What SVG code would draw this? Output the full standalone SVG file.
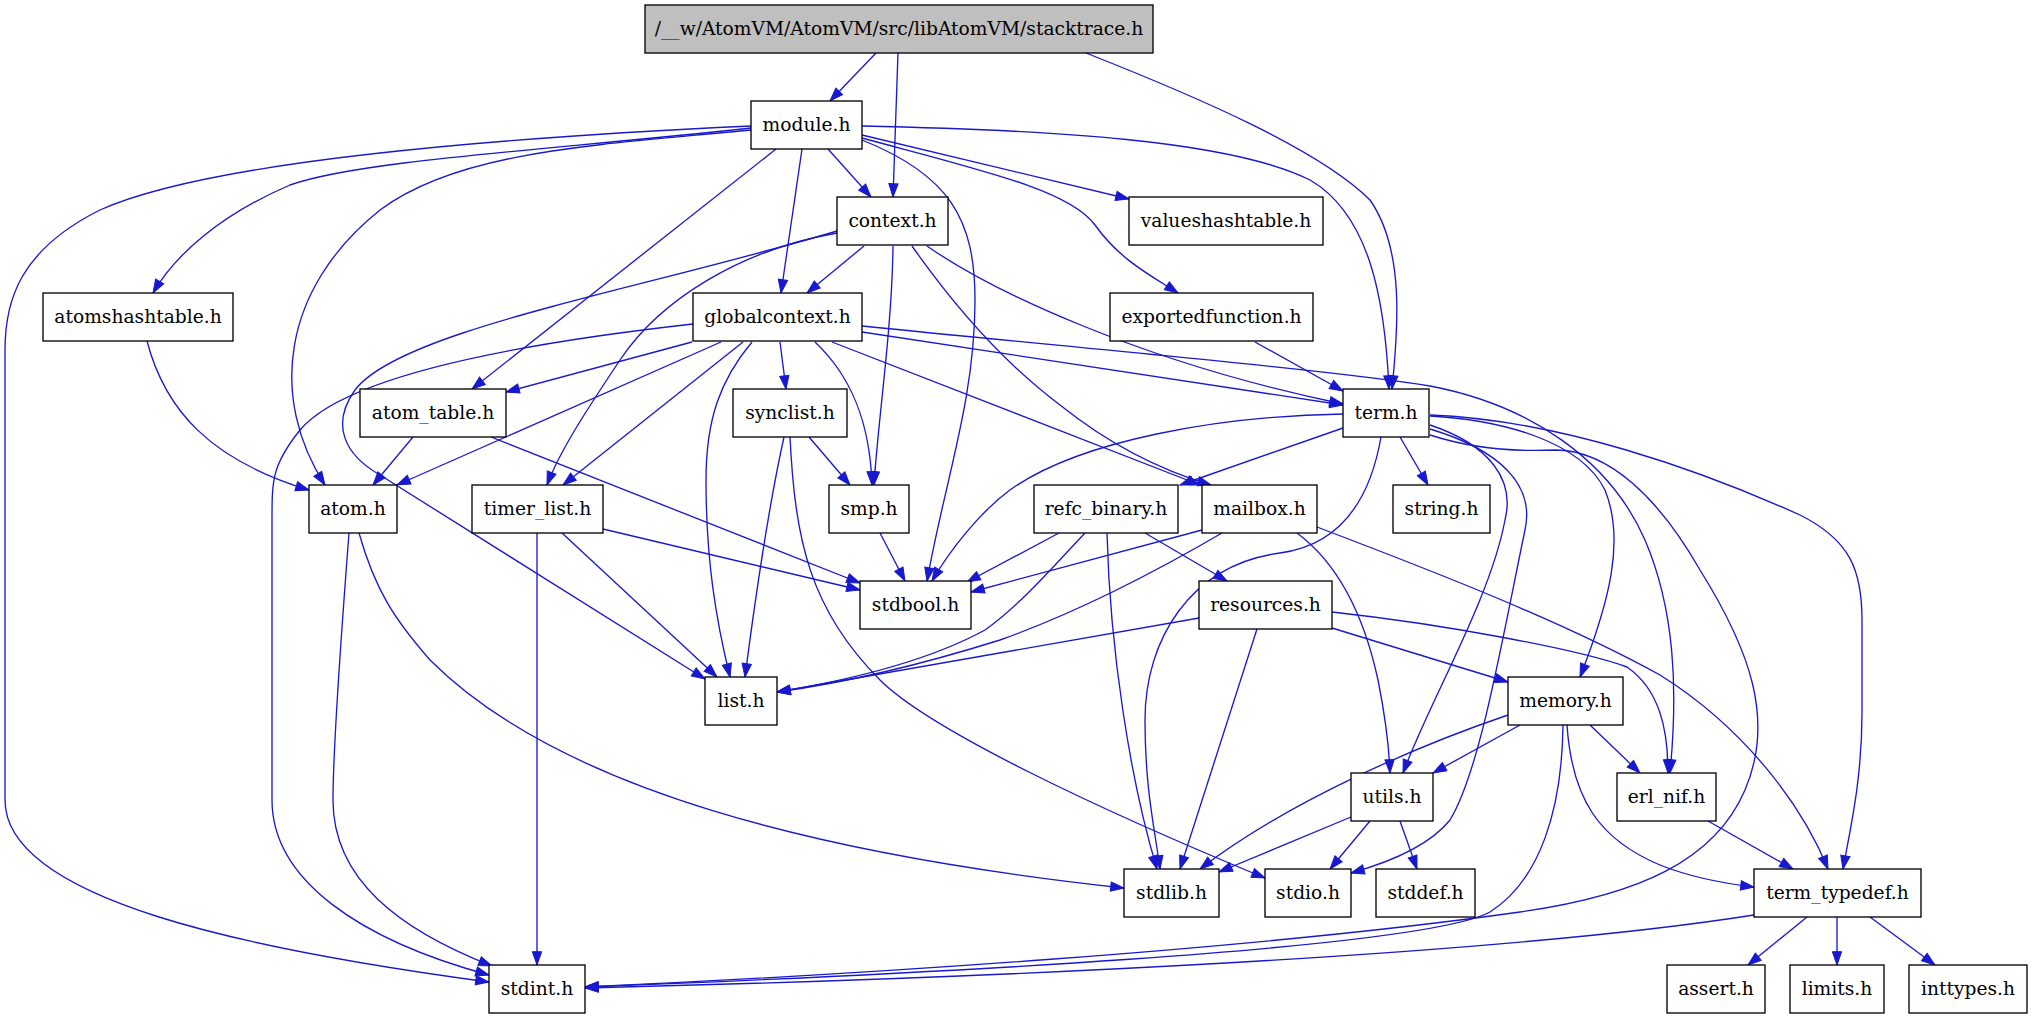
<svg xmlns="http://www.w3.org/2000/svg" width="2033" height="1019" viewBox="0 0 2033 1019">
<style>
.node rect{fill:#ffffff;stroke:#000000;stroke-width:1.33}
.node.root rect{fill:#bfbfbf}
.node text{font-family:"DejaVu Serif","Liberation Serif",serif;font-size:18.67px;text-anchor:middle;fill:#000000}
.edge{fill:none;stroke:#1818cc;stroke-width:1.33;marker-end:url(#arr)}
</style>
<defs>
<marker id="arr" markerUnits="userSpaceOnUse" markerWidth="14" markerHeight="10" refX="13.3" refY="4.67" orient="auto" overflow="visible">
<path d="M0,0 L13.3,4.67 L0,9.33 Z" fill="#1818cc" stroke="#1818cc" stroke-width="1"/>
</marker>
</defs>
<rect width="2033" height="1019" fill="#ffffff"/>
<g id="edges">
<path class="edge" d="M876,53 L830,101"/>
<path class="edge" d="M898,53 L893,197"/>
<path class="edge" d="M1086,53 C1200,98 1320,150 1370,200 C1405,250 1398,330 1392,389"/>
<path class="edge" d="M751,126 C450,140 200,165 100,210 C20,250 5,300 5,350 L5,800 C5,900 250,950 489,982"/>
<path class="edge" d="M751,128 C550,150 360,160 290,185 C220,215 175,255 153,293"/>
<path class="edge" d="M751,130 C600,145 460,150 380,210 C280,290 270,400 325,485"/>
<path class="edge" d="M776,149 L472,389"/>
<path class="edge" d="M802,149 L781,293"/>
<path class="edge" d="M828,149 L871,197"/>
<path class="edge" d="M862,140 C950,175 975,220 975,300 C975,400 945,480 927,581"/>
<path class="edge" d="M862,135 L1129,199"/>
<path class="edge" d="M862,138 C980,170 1070,190 1095,225 C1120,260 1150,275 1178,293"/>
<path class="edge" d="M862,126 C1050,130 1230,140 1310,180 C1370,215 1385,300 1389,389"/>
<path class="edge" d="M837,231 C640,290 400,330 355,390 C330,425 345,455 380,475 L705,679"/>
<path class="edge" d="M837,233 C740,250 660,300 620,360 C590,405 560,450 547,485"/>
<path class="edge" d="M864,246 L807,293"/>
<path class="edge" d="M893,246 C892,330 878,420 874,485"/>
<path class="edge" d="M912,246 C950,300 1000,360 1060,405 C1110,445 1160,470 1211,485"/>
<path class="edge" d="M927,246 C990,290 1140,362 1343,404"/>
<path class="edge" d="M147,341 C165,410 210,460 309,490"/>
<path class="edge" d="M693,324 C550,340 350,370 300,430 C272,465 272,480 272,520 L272,800 C272,880 360,940 489,975"/>
<path class="edge" d="M692,342 L506,392"/>
<path class="edge" d="M721,342 L397,485"/>
<path class="edge" d="M743,342 L563,485"/>
<path class="edge" d="M752,342 C720,380 706,420 706,480 C706,560 716,620 730,677"/>
<path class="edge" d="M780,342 L786,389"/>
<path class="edge" d="M815,342 C850,375 870,420 872,485"/>
<path class="edge" d="M832,342 L1200,485"/>
<path class="edge" d="M862,332 L1343,405"/>
<path class="edge" d="M862,326 C1100,350 1330,370 1430,386 C1530,405 1610,460 1645,540 C1675,610 1678,690 1670,773"/>
<path class="edge" d="M1255,342 L1343,391"/>
<path class="edge" d="M413,437 L373,485"/>
<path class="edge" d="M491,437 L860,583"/>
<path class="edge" d="M809,437 L850,485"/>
<path class="edge" d="M784,437 C770,500 755,600 745,677"/>
<path class="edge" d="M790,437 C795,540 810,610 880,680 C930,730 1100,810 1265,878"/>
<path class="edge" d="M349,533 C340,650 333,750 333,800 C333,880 400,930 492,966"/>
<path class="edge" d="M359,533 C375,590 395,620 430,660 C560,790 820,855 1124,888"/>
<path class="edge" d="M537,533 L537,965"/>
<path class="edge" d="M562,533 L717,677"/>
<path class="edge" d="M603,529 L860,590"/>
<path class="edge" d="M880,533 L905,581"/>
<path class="edge" d="M1400,437 L1428,485"/>
<path class="edge" d="M1343,428 L1180,485"/>
<path class="edge" d="M1343,414 C1220,416 1080,440 1010,490 C980,512 950,550 932,581"/>
<path class="edge" d="M1381,437 C1370,500 1340,545 1280,553 C1190,565 1145,640 1145,720 C1145,790 1155,830 1160,869"/>
<path class="edge" d="M1430,425 C1490,445 1515,480 1505,520 C1490,600 1430,700 1403,773"/>
<path class="edge" d="M1430,429 C1500,450 1535,485 1525,530 C1500,650 1480,770 1450,820 C1430,845 1390,862 1351,873"/>
<path class="edge" d="M1430,416 C1500,420 1580,440 1605,490 C1625,540 1610,600 1580,677"/>
<path class="edge" d="M1430,415 C1560,420 1700,470 1800,515 C1850,540 1862,570 1862,620 L1862,713 C1862,780 1850,830 1843,869"/>
<path class="edge" d="M1430,435 C1470,448 1510,452 1555,450 C1610,450 1660,500 1700,570 C1750,650 1775,720 1745,790 C1715,860 1640,895 1520,912 C1250,950 850,975 585,987"/>
<path class="edge" d="M1059,533 L967,582"/>
<path class="edge" d="M1085,533 C1050,570 1020,605 985,630 C930,660 850,680 777,692"/>
<path class="edge" d="M1107,533 C1110,650 1130,780 1157,869"/>
<path class="edge" d="M1145,533 L1227,581"/>
<path class="edge" d="M1202,530 L971,592"/>
<path class="edge" d="M1222,533 C1150,575 1070,615 1000,640 C930,662 850,682 777,692"/>
<path class="edge" d="M1297,533 C1340,565 1365,620 1378,680 C1386,720 1389,745 1390,773"/>
<path class="edge" d="M1317,527 C1430,570 1560,620 1660,675 C1740,725 1800,800 1828,869"/>
<path class="edge" d="M1199,618 L777,692"/>
<path class="edge" d="M1257,629 L1180,869"/>
<path class="edge" d="M1332,628 L1508,682"/>
<path class="edge" d="M1332,612 C1450,625 1580,650 1627,667 C1660,690 1668,730 1668,773"/>
<path class="edge" d="M1508,715 C1420,745 1290,800 1200,869"/>
<path class="edge" d="M1520,725 L1433,773"/>
<path class="edge" d="M1590,725 L1640,773"/>
<path class="edge" d="M1567,725 C1572,800 1600,840 1660,865 C1690,877 1720,883 1754,887"/>
<path class="edge" d="M1563,725 C1562,810 1540,880 1490,912 C1420,950 900,975 585,987"/>
<path class="edge" d="M1351,817 L1219,872"/>
<path class="edge" d="M1370,821 L1330,869"/>
<path class="edge" d="M1400,821 L1417,869"/>
<path class="edge" d="M1708,821 L1793,869"/>
<path class="edge" d="M1754,915 C1500,955 1000,978 585,988"/>
<path class="edge" d="M1807,917 L1748,965"/>
<path class="edge" d="M1837,917 L1837,965"/>
<path class="edge" d="M1870,917 L1935,965"/>
</g>
<g id="node-stacktrace" class="node root"><rect x="645" y="5" width="508" height="48"/><text x="899" y="35">/__w/AtomVM/AtomVM/src/libAtomVM/stacktrace.h</text></g>
<g id="node-module" class="node"><rect x="751" y="101" width="111" height="48"/><text x="806.5" y="131">module.h</text></g>
<g id="node-context" class="node"><rect x="837" y="197" width="111" height="48"/><text x="892.5" y="227">context.h</text></g>
<g id="node-valueshashtable" class="node"><rect x="1129" y="197" width="194" height="48"/><text x="1226" y="227">valueshashtable.h</text></g>
<g id="node-atomshashtable" class="node"><rect x="43" y="293" width="190" height="48"/><text x="138" y="323">atomshashtable.h</text></g>
<g id="node-globalcontext" class="node"><rect x="693" y="293" width="169" height="48"/><text x="777.5" y="323">globalcontext.h</text></g>
<g id="node-exportedfunction" class="node"><rect x="1110" y="293" width="203" height="48"/><text x="1211.5" y="323">exportedfunction.h</text></g>
<g id="node-atom_table" class="node"><rect x="360" y="389" width="146" height="48"/><text x="433" y="419">atom_table.h</text></g>
<g id="node-synclist" class="node"><rect x="733" y="389" width="114" height="48"/><text x="790" y="419">synclist.h</text></g>
<g id="node-term" class="node"><rect x="1343" y="389" width="86" height="48"/><text x="1386" y="419">term.h</text></g>
<g id="node-atom" class="node"><rect x="309" y="485" width="88" height="48"/><text x="353" y="515">atom.h</text></g>
<g id="node-timer_list" class="node"><rect x="472" y="485" width="131" height="48"/><text x="537.5" y="515">timer_list.h</text></g>
<g id="node-smp" class="node"><rect x="829" y="485" width="80" height="48"/><text x="869" y="515">smp.h</text></g>
<g id="node-refc_binary" class="node"><rect x="1034" y="485" width="144" height="48"/><text x="1106" y="515">refc_binary.h</text></g>
<g id="node-mailbox" class="node"><rect x="1202" y="485" width="115" height="48"/><text x="1259.5" y="515">mailbox.h</text></g>
<g id="node-string" class="node"><rect x="1393" y="485" width="97" height="48"/><text x="1441.5" y="515">string.h</text></g>
<g id="node-stdbool" class="node"><rect x="860" y="581" width="111" height="48"/><text x="915.5" y="611">stdbool.h</text></g>
<g id="node-resources" class="node"><rect x="1199" y="581" width="133" height="48"/><text x="1265.5" y="611">resources.h</text></g>
<g id="node-list" class="node"><rect x="705" y="677" width="72" height="48"/><text x="741" y="707">list.h</text></g>
<g id="node-memory" class="node"><rect x="1508" y="677" width="115" height="48"/><text x="1565.5" y="707">memory.h</text></g>
<g id="node-utils" class="node"><rect x="1351" y="773" width="82" height="48"/><text x="1392" y="803">utils.h</text></g>
<g id="node-erl_nif" class="node"><rect x="1617" y="773" width="99" height="48"/><text x="1666.5" y="803">erl_nif.h</text></g>
<g id="node-stdlib" class="node"><rect x="1124" y="869" width="95" height="48"/><text x="1171.5" y="899">stdlib.h</text></g>
<g id="node-stdio" class="node"><rect x="1265" y="869" width="86" height="48"/><text x="1308" y="899">stdio.h</text></g>
<g id="node-stddef" class="node"><rect x="1376" y="869" width="99" height="48"/><text x="1425.5" y="899">stddef.h</text></g>
<g id="node-term_typedef" class="node"><rect x="1754" y="869" width="167" height="48"/><text x="1837.5" y="899">term_typedef.h</text></g>
<g id="node-stdint" class="node"><rect x="489" y="965" width="96" height="48"/><text x="537" y="995">stdint.h</text></g>
<g id="node-assert" class="node"><rect x="1667" y="965" width="98" height="48"/><text x="1716" y="995">assert.h</text></g>
<g id="node-limits" class="node"><rect x="1790" y="965" width="94" height="48"/><text x="1837" y="995">limits.h</text></g>
<g id="node-inttypes" class="node"><rect x="1909" y="965" width="118" height="48"/><text x="1968" y="995">inttypes.h</text></g>
</svg>
